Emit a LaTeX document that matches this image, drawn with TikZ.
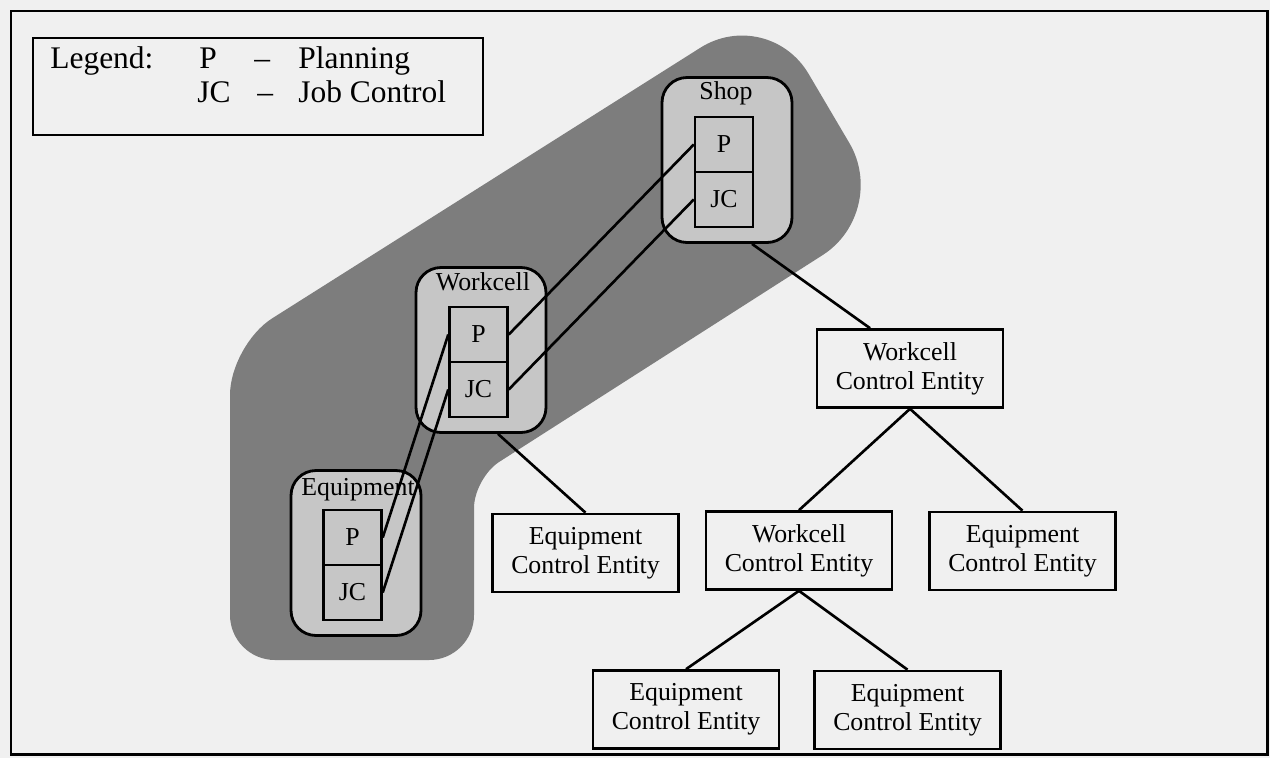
\documentclass[tikz,border=0pt]{standalone}
\usepackage{fontspec}
\setmainfont{Liberation Serif}
\usetikzlibrary{calc}

\definecolor{bg}{RGB}{240,240,240}
\definecolor{bandgray}{RGB}{125,125,125}
\definecolor{boxgray}{RGB}{198,198,198}

\newcommand{\entfont}{\fontsize{14.7pt}{16.4pt}\selectfont}
\newcommand{\legfont}{\fontsize{17.9pt}{19.3pt}\selectfont}

\tikzset{
  entity/.style={draw, line width=1.5pt, fill=bg, minimum width=3.72cm,
    minimum height=1.56cm, align=center, inner sep=0pt, font=\entfont},
  levelbox/.style={draw, line width=1.6pt, rounded corners=0.5cm, fill=boxgray,
    minimum width=2.6cm, minimum height=3.3cm, inner sep=0pt},
  half/.style={draw, line width=1.4pt, fill=boxgray, minimum width=1.16cm,
    minimum height=1.1cm, inner sep=0pt, font=\entfont},
  levellabel/.style={anchor=base, inner sep=0pt, font=\entfont},
  legtext/.style={anchor=base west, inner sep=0pt, font=\legfont},
  link/.style={line width=1.5pt},
}

\begin{document}
\begin{tikzpicture}[x=0.02cm, y=-0.02cm]
  \useasboundingbox (0,0) rectangle (1270,758);
  \fill[bg] (0,0) rectangle (1270,758);

  % outer frame
  \draw[line width=1.7pt] (11,11) rectangle (1267,754);

  % legend
  \node[draw, line width=1.4pt, minimum width=9.0cm, minimum height=1.94cm, inner sep=0pt]
    (legend) at (258,86.5) {};
  \node[legtext] (legword) at (50,68) {Legend:};
  \node[legtext] (legP)    at (199,68) {P};
  \node[legtext] (legdashA) at (254,68) {–};
  \node[legtext] (legPlan) at (298,68) {Planning};
  \node[legtext] (legJC)   at (197,102) {JC};
  \node[legtext] (legdashB) at (257,102) {–};
  \node[legtext] (legJob)  at (298,102) {Job Control};

  % shaded band around the Shop / Workcell / Equipment chain
  % (the radius given before "-- P" rounds the corner at P)
  \fill[bandgray] (350,660)
    [rounded corners=0.9cm] -- (230,660)
    [rounded corners=1.0cm] -- (230,345)
    [rounded corners=1.6cm] -- (768,5)
    [rounded corners=1.6cm] -- (890,212)
    [rounded corners=0.6cm] -- (474,478)
    [rounded corners=0.9cm] -- (474,660)
    [sharp corners] -- (350,660) -- cycle;

  % Shop
  \node[levelbox] (shop) at (727,160) {};
  \node[levellabel] (shoplbl) at (726,99) {Shop};
  \node[half] (shopP)  at (724,144.5) {P};
  \node[half] (shopJC) at (724,199.5) {JC};

  % Workcell
  \node[levelbox] (wc) at (481,350) {};
  \node[levellabel] (wclbl) at (483,290) {Workcell};
  \node[half] (wcP)  at (478.5,334.5) {P};
  \node[half] (wcJC) at (478.5,389.5) {JC};

  % Equipment
  \node[levelbox] (eq) at (356,553) {};
  \node[levellabel] (eqlbl) at (358,495) {Equipment};
  \node[half] (eqP)  at (352.5,537.5) {P};
  \node[half] (eqJC) at (352.5,592.5) {JC};

  % links between the planning and job control parts
  \draw[link] (shopP.west) -- (wcP.east);
  \draw[link] (shopJC.west) -- (wcJC.east);
  \draw[link] (wcP.west) -- (eqP.east);
  \draw[link] (wcJC.west) -- (eqJC.east);

  % control entities
  \node[entity] (wcetop)  at (910,368.5) {Workcell\\Control Entity};
  \node[entity] (ece1)    at (585.5,553) {Equipment\\Control Entity};
  \node[entity] (wcemid)  at (799,550.5) {Workcell\\Control Entity};
  \node[entity] (eceright) at (1022.5,551) {Equipment\\Control Entity};
  \node[entity] (ecebl)   at (686,709.5) {Equipment\\Control Entity};
  \node[entity] (ecebr)   at (907.5,710) {Equipment\\Control Entity};

  % hierarchy
  \draw[link] ($(shop.south)+(25,0)$) -- ($(wcetop.north)+(-40,0)$);
  \draw[link] ($(wc.south)+(17,0)$) -- (ece1.north);
  \draw[link] (wcetop.south) -- (wcemid.north);
  \draw[link] (wcetop.south) -- (eceright.north);
  \draw[link] (wcemid.south) -- (ecebl.north);
  \draw[link] (wcemid.south) -- (ecebr.north);
\end{tikzpicture}
\end{document}
